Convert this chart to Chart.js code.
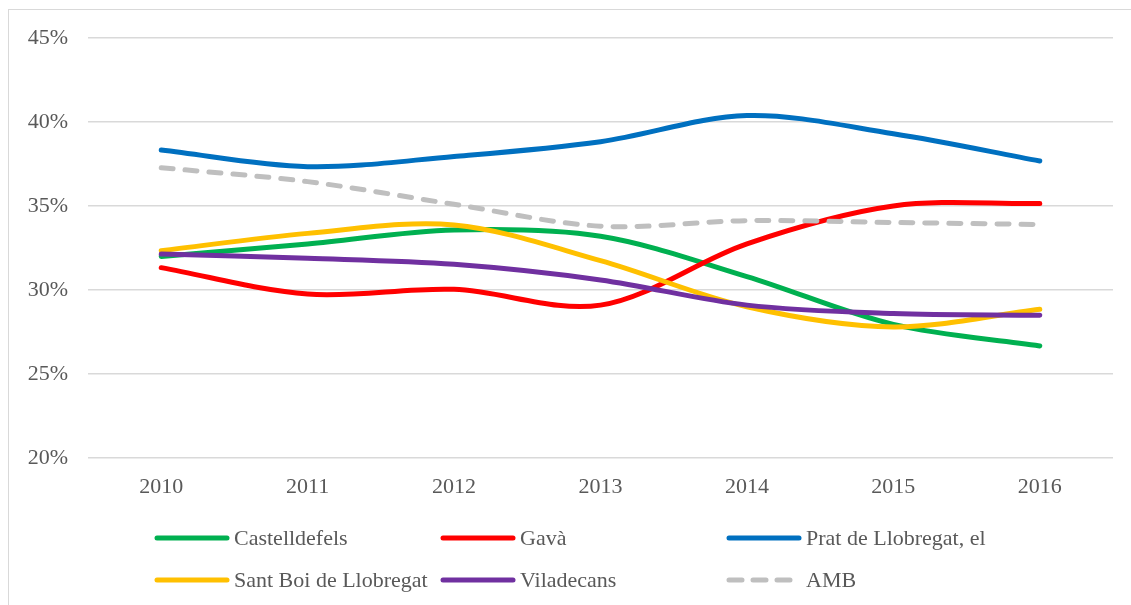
<!DOCTYPE html>
<html>
<head>
<meta charset="utf-8">
<script src="https://cdn.jsdelivr.net/npm/chart.js@4.4.0/dist/chart.umd.min.js"></script>
<style>
    body { margin: 0; background: #fff; }
    #wrap { position: relative; width: 1131px; height: 605px; overflow: hidden; }
    #frame { position: absolute; left: 8px; top: 9px; width: 1200px; height: 700px; border: 1px solid #d9d9d9; box-sizing: border-box; }
    #chart { position: absolute; left: 0; top: 0; }
    #legend { position: absolute; left: 0; top: 0; width: 1131px; height: 605px; pointer-events: none; }
    .item { position: absolute; display: flex; align-items: center; height: 30px;
            font-family: "Liberation Serif", serif; font-size: 22px; color: #595959; }
    .item canvas { margin-right: 4px; }
</style>
</head>
<body>
<div id="wrap">
    <div id="frame"></div>
    <canvas id="chart" width="1131" height="605"></canvas>
    <div id="legend"></div>
</div>
<script>
// Data
const years = ['2010', '2011', '2012', '2013', '2014', '2015', '2016'];
const castelldefels = [32.0, 32.74, 33.57, 33.2, 30.8, 27.95, 26.67];
const gava = [31.33, 29.76, 30.04, 29.1, 32.75, 35.0, 35.15];
const prat = [38.33, 37.34, 37.95, 38.83, 40.38, 39.3, 37.68];
const santBoi = [32.34, 33.37, 33.87, 31.75, 29.0, 27.8, 28.85];
const viladecans = [32.14, 31.89, 31.53, 30.6, 29.1, 28.6, 28.5];
const amb = [37.28, 36.45, 35.1, 33.8, 34.13, 34.02, 33.9];
const yTicks = [20, 25, 30, 35, 40, 45];

const textColor = '#595959';
const fontFamily = '"Liberation Serif", serif';

function series(label, data, color, order, dashed) {
    return {
        label: label,
        data: data,
        borderColor: color,
        backgroundColor: color,
        borderWidth: 5,
        borderCapStyle: 'round',
        borderDash: dashed ? [12, 12] : [],
        pointRadius: 0,
        tension: 0.33,
        order: order
    };
}

const datasets = [
    series('Castelldefels', castelldefels, '#00b050', 6),
    series('Gavà', gava, '#ff0000', 5),
    series('Prat de Llobregat, el', prat, '#0070c0', 4),
    series('Sant Boi de Llobregat', santBoi, '#ffc000', 3),
    series('Viladecans', viladecans, '#7030a0', 2),
    series('AMB', amb, '#bfbfbf', 1, true)
];

const chart = new Chart(document.getElementById('chart'), {
    type: 'line',
    data: { labels: years, datasets: datasets },
    options: {
        responsive: false,
        animation: false,
        layout: { padding: { left: 0, top: 38, right: 18, bottom: 0 } },
        plugins: { legend: { display: false }, tooltip: { enabled: false } },
        scales: {
            x: {
                offset: true,
                grid: { display: false, drawTicks: false },
                border: { display: false },
                ticks: { color: textColor, font: { family: fontFamily, size: 22 }, padding: 16, maxRotation: 0 },
                afterFit: scale => { scale.height = 147; }
            },
            y: {
                min: 20,
                max: 45,
                afterBuildTicks: scale => { scale.ticks = yTicks.map(v => ({ value: v })); },
                grid: { color: '#d9d9d9', lineWidth: 1.5, drawTicks: false },
                border: { display: false },
                ticks: {
                    color: textColor,
                    font: { family: fontFamily, size: 22 },
                    padding: 20,
                    callback: value => value + '%'
                },
                afterFit: scale => { scale.width = 88; }
            }
        }
    }
});

// Legend in three fixed columns, two rows, like the original
const legendCols = [154, 440, 726];
const legendRows = [538, 580];
const legend = document.getElementById('legend');
datasets.forEach((ds, i) => {
    const item = document.createElement('div');
    item.className = 'item';
    item.style.left = legendCols[i % 3] + 'px';
    item.style.top = (legendRows[Math.floor(i / 3)] - 15) + 'px';

    const sw = document.createElement('canvas');
    sw.width = 76;
    sw.height = 10;
    const ctx = sw.getContext('2d');
    ctx.strokeStyle = ds.borderColor;
    ctx.lineWidth = 5;
    ctx.lineCap = 'round';
    ctx.setLineDash(ds.borderDash.length ? [13, 11] : []);
    ctx.beginPath();
    ctx.moveTo(3, 5);
    ctx.lineTo(73, 5);
    ctx.stroke();

    const label = document.createElement('span');
    label.textContent = ds.label;
    item.appendChild(sw);
    item.appendChild(label);
    legend.appendChild(item);
});
</script>
</body>
</html>
